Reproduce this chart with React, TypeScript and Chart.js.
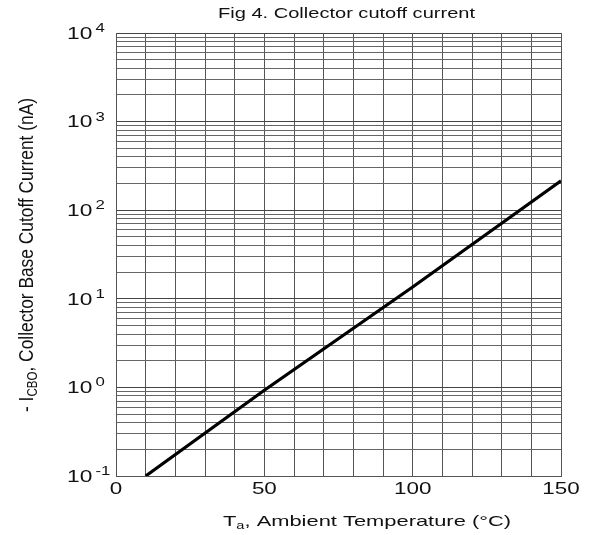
import React, { useEffect, useRef } from "react";
import { Chart, registerables } from "chart.js";

Chart.register(...registerables);

// ---- data ----
const tempC = [10, 50, 100, 150];
const icboNA = [0.1, 0.93, 13.6, 215];
const xTickLabels = [0, 50, 100, 150];
const yDecades = [-1, 0, 1, 2, 3, 4];
const yMinorMultipliers = [1, 2, 3, 4, 5, 6, 7, 8, 9];
const chartTitle = "Fig 4. Collector cutoff current";
const xTitleParts = ["T", "a", ", Ambient Temperature (°C)"];
const yTitleParts = ["- I", "CBO", ", Collector Base Cutoff Current (nA)"];

const FONT = "'Liberation Sans', Arial, sans-serif";
const SX = 1.4;

type Run = { text: string; size: number; dy: number };

function runsWidth(ctx: CanvasRenderingContext2D, runs: Run[]) {
  let w = 0;
  for (const r of runs) {
    ctx.font = `${r.size}px ${FONT}`;
    w += ctx.measureText(r.text).width;
  }
  return w;
}

function drawRuns(ctx: CanvasRenderingContext2D, runs: Run[], x0: number) {
  let x = x0;
  for (const r of runs) {
    ctx.font = `${r.size}px ${FONT}`;
    ctx.fillText(r.text, x, r.dy);
    x += ctx.measureText(r.text).width;
  }
}

const textPlugin = {
  id: "customText",
  afterDraw(chart: any) {
    const ctx: CanvasRenderingContext2D = chart.ctx;
    const xs = chart.scales.x;
    const ys = chart.scales.y;
    ctx.save();
    ctx.fillStyle = "#111";
    ctx.textBaseline = "alphabetic";
    ctx.textAlign = "left";

    // chart title
    {
      const runs: Run[] = [{ text: chartTitle, size: 14, dy: 0 }];
      const w = runsWidth(ctx, runs);
      const sx = (475 - 218) / w;
      ctx.save();
      ctx.translate(218, 18);
      ctx.scale(sx, 1);
      drawRuns(ctx, runs, 0);
      ctx.restore();
    }

    // x axis title
    {
      const runs: Run[] = [
        { text: xTitleParts[0], size: 15, dy: 0 },
        { text: xTitleParts[1], size: 10, dy: 3 },
        { text: xTitleParts[2], size: 15, dy: 0 },
      ];
      const w = runsWidth(ctx, runs);
      const sx = (511 - 223) / w;
      ctx.save();
      ctx.translate(223, 526);
      ctx.scale(sx, 1);
      drawRuns(ctx, runs, 0);
      ctx.restore();
    }

    // y axis title (rotated)
    {
      const runs: Run[] = [
        { text: yTitleParts[0], size: 15, dy: 0 },
        { text: yTitleParts[1], size: 10, dy: 3 },
        { text: yTitleParts[2], size: 15, dy: 0 },
      ];
      const w = runsWidth(ctx, runs);
      const sAlong = (412 - 98) / w;
      ctx.save();
      ctx.translate(33, 412);
      ctx.rotate(-Math.PI / 2);
      ctx.scale(sAlong, SX);
      drawRuns(ctx, runs, 0);
      ctx.restore();
    }

    // y tick labels 10^n
    for (const d of yDecades) {
      const y = ys.getPixelForValue(Math.pow(10, d));
      ctx.save();
      ctx.translate(67, y + 5.8);
      ctx.scale(1.42, 1);
      ctx.font = `16px ${FONT}`;
      ctx.fillText("10", 0, 0);
      ctx.restore();
      ctx.save();
      ctx.translate(95.5, y - 1);
      ctx.scale(SX, 1);
      ctx.font = `12px ${FONT}`;
      ctx.fillText(String(d), 0, 0);
      ctx.restore();
    }

    // x tick labels
    for (const v of xTickLabels) {
      const x = xs.getPixelForValue(v);
      ctx.save();
      ctx.translate(x, 494);
      ctx.scale(SX, 1);
      ctx.font = `16px ${FONT}`;
      ctx.textAlign = "center";
      ctx.fillText(String(v), 0, 0);
      ctx.restore();
    }

    ctx.restore();
  },
};

export default function App() {
  const ref = useRef<HTMLCanvasElement>(null);

  useEffect(() => {
    if (!ref.current) return;
    const yGridValues: number[] = [];
    for (const d of yDecades) {
      if (d === yDecades[yDecades.length - 1]) {
        yGridValues.push(Math.pow(10, d));
      } else {
        for (const m of yMinorMultipliers) {
          yGridValues.push(parseFloat((m * Math.pow(10, d)).toPrecision(6)));
        }
      }
    }
    const points = tempC.map((t, i) => ({ x: t, y: icboNA[i] }));

    const chart = new Chart(ref.current, {
      type: "line",
      data: {
        datasets: [
          {
            data: points,
            borderColor: "#000",
            borderWidth: 3.2,
            pointRadius: 0,
            tension: 0,
            fill: false,
          },
        ],
      },
      options: {
        animation: false,
        responsive: false,
        events: [],
        layout: { padding: { top: 33, right: 34, left: 0, bottom: 0 } },
        plugins: {
          legend: { display: false },
          tooltip: { enabled: false },
          title: { display: false },
        },
        scales: {
          x: {
            type: "linear",
            min: 0,
            max: 150,
            ticks: { stepSize: 10, display: false },
            grid: { color: "#555", lineWidth: 1, drawTicks: false },
            border: { display: true, color: "#555", width: 1 },
            afterFit: (s: any) => {
              s.height = 59;
            },
          },
          y: {
            type: "logarithmic",
            min: 0.1,
            max: 10000,
            ticks: { display: false },
            afterBuildTicks: (s: any) => {
              s.ticks = yGridValues.map((v) => ({ value: v }));
            },
            grid: {
              color: (c: any) => {
                const v = c.tick ? c.tick.value : 1;
                const l = Math.log10(v);
                return Math.abs(l - Math.round(l)) < 1e-6 ? "#444" : "#666";
              },
              lineWidth: 1,
              drawTicks: false,
            },
            border: { display: true, color: "#555", width: 1 },
            afterFit: (s: any) => {
              s.width = 116;
            },
          },
        },
      },
      plugins: [textPlugin],
    } as any);

    return () => chart.destroy();
  }, []);

  return (
    <div style={{ position: "absolute", left: 0, top: 0, background: "#fff" }}>
      <canvas ref={ref} width={595} height={535} style={{ display: "block" }} />
    </div>
  );
}
